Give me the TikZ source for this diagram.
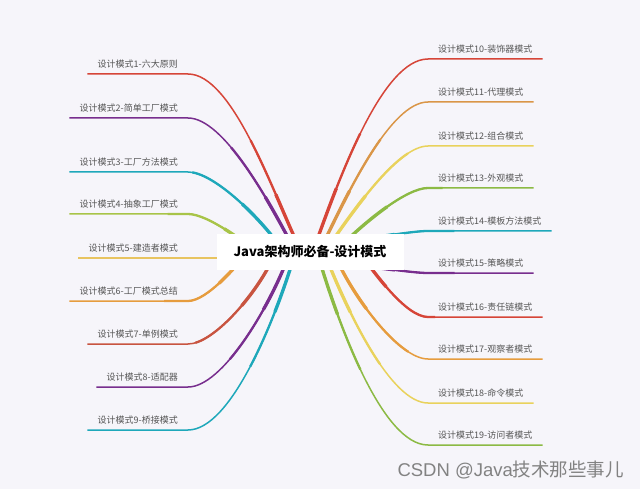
\documentclass[tikz,border=0pt]{standalone}
\usepackage{fontspec}
\newfontfamily\cjk{Noto Sans CJK SC}
\newfontfamily\wmlatin{Liberation Sans}
\definecolor{paper}{RGB}{246,245,250}
\definecolor{labelgray}{RGB}{85,85,85}
\definecolor{wmgray}{RGB}{130,130,130}
\definecolor{mmred}{RGB}{214,69,56}
\definecolor{mmpurple}{RGB}{120,46,142}
\definecolor{mmteal}{RGB}{30,168,186}
\definecolor{mmlime}{RGB}{168,196,72}
\definecolor{mmsand}{RGB}{232,196,96}
\definecolor{mmorange}{RGB}{230,156,62}
\definecolor{mmbrick}{RGB}{200,84,64}
\definecolor{mmtan}{RGB}{218,150,72}
\definecolor{mmyellow}{RGB}{233,210,92}
\definecolor{mmgreen}{RGB}{140,186,68}
\tikzset{
  leaf/.style={font=\cjk\fontsize{9}{10}\selectfont, text=labelgray,
    inner xsep=10pt, inner ysep=5.5pt},
  lleaf/.style={leaf, anchor=south east},
  rleaf/.style={leaf, anchor=south west},
  branch/.style={draw=#1, line width=1.5pt, out looseness=0.8, in looseness=0.55,
    postaction={draw=#1, line width=2.3pt, dash pattern=on 115pt off 2000pt},
    postaction={draw=#1, line width=3.3pt, dash pattern=on 55pt off 2000pt}},
  hub/.style={fill=white, minimum width=187pt, minimum height=35pt, inner sep=0pt,
    font=\cjk\bfseries\fontsize{13}{15}\selectfont},
}
\begin{document}
\begin{tikzpicture}[x=1pt, y=1pt]
  \fill[paper] (0,0) rectangle (640,-489);
  \useasboundingbox (0,0) rectangle (640,-489);
  \coordinate (core) at (310,-252);
  % left leaves
  \node[lleaf] (l1) at (188,-74) {设计模式1-六大原则};
  \node[lleaf] (l2) at (188,-118) {设计模式2-简单工厂模式};
  \node[lleaf] (l3) at (188,-172) {设计模式3-工厂方法模式};
  \node[lleaf] (l4) at (188,-214) {设计模式4-抽象工厂模式};
  \node[lleaf] (l5) at (188,-258) {设计模式5-建造者模式};
  \node[lleaf] (l6) at (188,-301) {设计模式6-工厂模式总结};
  \node[lleaf] (l7) at (188,-344) {设计模式7-单例模式};
  \node[lleaf] (l8) at (188,-387) {设计模式8-适配器};
  \node[lleaf] (l9) at (188,-430) {设计模式9-桥接模式};
  % right leaves
  \node[rleaf] (r10) at (428,-59) {设计模式10-装饰器模式};
  \node[rleaf] (r11) at (428,-102) {设计模式11-代理模式};
  \node[rleaf] (r12) at (428,-146) {设计模式12-组合模式};
  \node[rleaf] (r13) at (428,-188) {设计模式13-外观模式};
  \node[rleaf] (r14) at (428,-231) {设计模式14-模板方法模式};
  \node[rleaf] (r15) at (428,-273) {设计模式15-策略模式};
  \node[rleaf] (r16) at (428,-317) {设计模式16-责任链模式};
  \node[rleaf] (r17) at (428,-359) {设计模式17-观察者模式};
  \node[rleaf] (r18) at (428,-403) {设计模式18-命令模式};
  \node[rleaf] (r19) at (428,-445) {设计模式19-访问者模式};
  % left branches
  \draw[branch=mmred] ([shift={(-12,7)}]core) to[out=115,in=0] (l1.south east) -- (l1.south west);
  \draw[branch=mmpurple] ([shift={(-18,7)}]core) to[out=118,in=0] (l2.south east) -- (l2.south west);
  \draw[branch=mmteal] ([shift={(-31,7)}]core) to[out=126,in=0] (l3.south east) -- (l3.south west);
  \draw[branch=mmlime] ([shift={(-41,-9)}]core) to[out=142,in=0] (l4.south east) -- (l4.south west);
  \draw[branch=mmsand] ([shift={(-10,-6)}]core) to[out=180,in=0] (l5.south east) -- (l5.south west);
  \draw[branch=mmorange] ([shift={(-55,10)}]core) to[out=234,in=0] (l6.south east) -- (l6.south west);
  \draw[branch=mmbrick] ([shift={(-38,-8)}]core) to[out=245,in=0] (l7.south east) -- (l7.south west);
  \draw[branch=mmpurple] ([shift={(-23,-8)}]core) to[out=249,in=0] (l8.south east) -- (l8.south west);
  \draw[branch=mmteal] ([shift={(-17,-8)}]core) to[out=253,in=0] (l9.south east) -- (l9.south west);
  % right branches
  \draw[branch=mmred] ([shift={(7,12)}]core) to[out=70,in=180] (r10.south west) -- (r10.south east);
  \draw[branch=mmtan] ([shift={(15,12)}]core) to[out=64,in=180] (r11.south west) -- (r11.south east);
  \draw[branch=mmyellow] ([shift={(23,12)}]core) to[out=55,in=180] (r12.south west) -- (r12.south east);
  \draw[branch=mmgreen] ([shift={(35,10)}]core) to[out=44,in=180] (r13.south west) -- (r13.south east);
  \draw[branch=mmteal] ([shift={(30,12)}]core) to[out=0,in=180] (r14.south west) -- (r14.south east);
  \draw[branch=mmpurple] ([shift={(30,-13)}]core) to[out=0,in=180] (r15.south west) -- (r15.south east);
  \draw[branch=mmred] ([shift={(43,9)}]core) to[out=-55,in=180] (r16.south west) -- (r16.south east);
  \draw[branch=mmorange] ([shift={(28,-10)}]core) to[out=-65,in=180] (r17.south west) -- (r17.south east);
  \draw[branch=mmyellow] ([shift={(18,-10)}]core) to[out=-68,in=180] (r18.south west) -- (r18.south east);
  \draw[branch=mmgreen] ([shift={(10,-10)}]core) to[out=-73,in=180] (r19.south west) -- (r19.south east);
  % centre topic on top
  \node[hub] (root) at (core) {Java架构师必备-设计模式};
  \node[anchor=west, text=wmgray, font=\fontsize{18.5}{20}\selectfont] (wm) at (394,-470)
    {\wmlatin CSDN @Java\cjk 技术那些事儿};
\end{tikzpicture}
\end{document}
